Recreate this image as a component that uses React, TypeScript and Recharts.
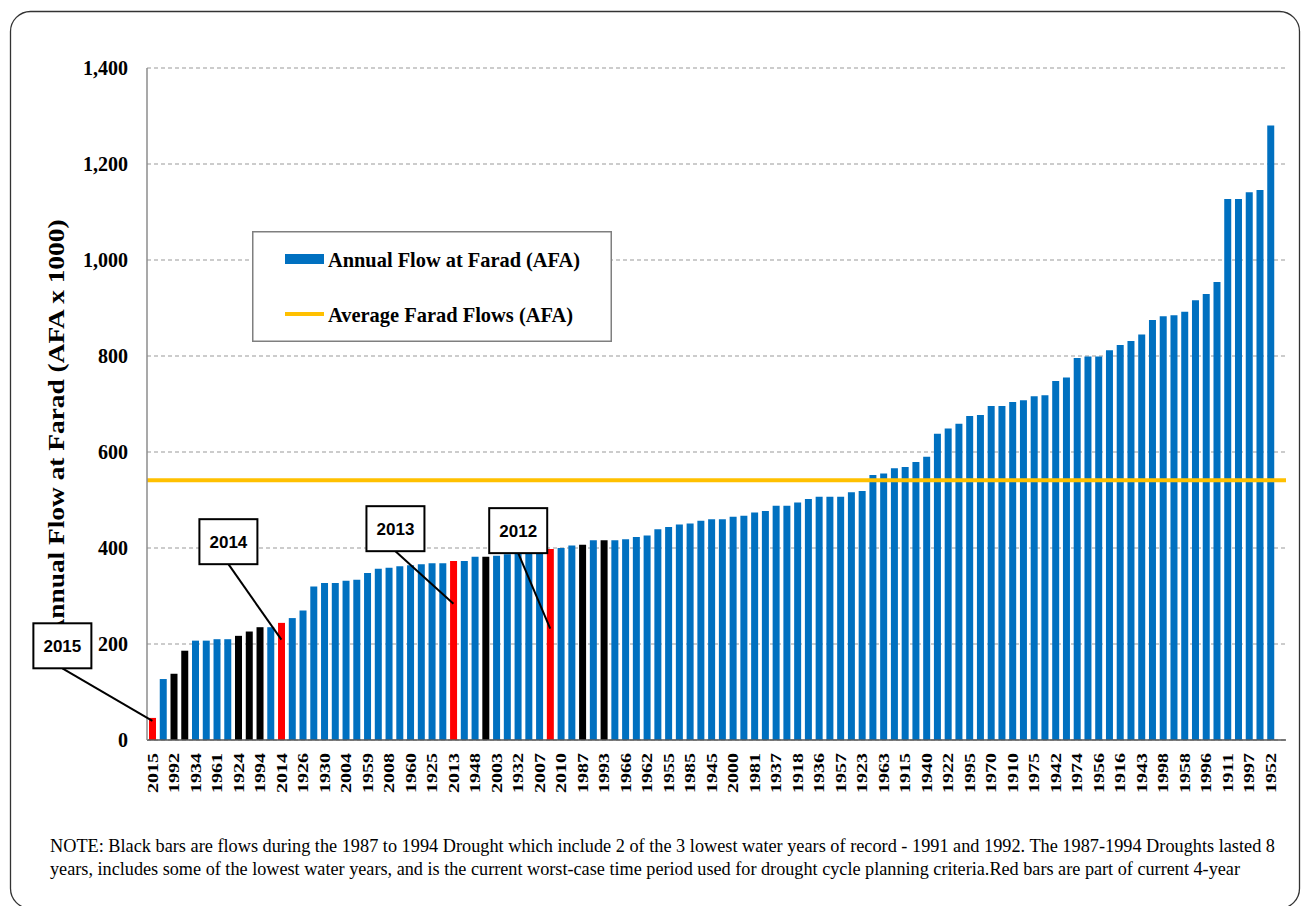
import React from "react";
import {
  Bar,
  CartesianGrid,
  Cell,
  ComposedChart,
  Legend,
  ReferenceDot,
  ReferenceLine,
  XAxis,
  YAxis,
} from "recharts";

// annual flows at Farad, sorted low to high (AFA x 1000)
const FLOWS = [
  46, 127, 138, 186, 207, 207, 210, 210, 217, 226, 235, 235, 244, 254, 270, 320, 327, 327, 332, 334,
  348, 357, 359, 362, 364, 366, 368, 368, 373, 373, 382, 382, 384, 387, 391, 393, 395, 398, 400, 405,
  407, 416, 416, 416, 418, 423, 426, 439, 444, 449, 451, 457, 460, 460, 465, 467, 474, 477, 488, 488,
  495, 502, 507, 507, 507, 516, 519, 552, 555, 566, 569, 579, 590, 638, 649, 659, 675, 677, 696, 696,
  704, 708, 716, 718, 748, 755, 796, 799, 799, 812, 823, 831, 845, 875, 883, 885, 892, 916, 929, 954,
  1127, 1127, 1141, 1146, 1280,
];

// only every other bar carries a year label
const TICK_YEARS = [
  "2015", "1992", "1934", "1961", "1924", "1994", "2014", "1926", "1930", "2004", "1959", "2008", "1960",
  "1925", "2013", "1948", "2003", "1932", "2007", "2010", "1987", "1993", "1966", "1962", "1955", "1985",
  "1945", "2000", "1981", "1937", "1918", "1936", "1957", "1923", "1963", "1915", "1940", "1922", "1995",
  "1970", "1910", "1975", "1942", "1974", "1956", "1916", "1943", "1998", "1958", "1996", "1911", "1997",
  "1952",
];

const DROUGHT_BARS = [2, 3, 8, 9, 10, 31, 40, 42];
const CURRENT_BARS = [0, 12, 28, 37];
const AVERAGE_FLOW = 541;
const Y_TICKS = [0, 200, 400, 600, 800, 1000, 1200, 1400];

const CALLOUT_YEARS = ["2015", "2014", "2013", "2012"];
const CALLOUT_BARS = [0, 12, 28, 37];
const CALLOUT_POINTS = [40, 209, 284, 232];

const SERIES_NAMES = ["Annual Flow at Farad (AFA)", "Average Farad Flows (AFA)"];

const NOTE_LINES = [
  "NOTE: Black bars are flows during the 1987 to 1994 Drought which include 2 of the 3 lowest  water years of record - 1991 and 1992. The 1987-1994 Droughts lasted 8",
  "years, includes some of the lowest water years, and is the current worst-case time period used for drought cycle planning  criteria.Red bars are part of current 4-year",
];

const BLUE = "#0070C0";
const BLACK = "#000000";
const RED = "#FF0000";
const GOLD = "#FFC000";
const SERIF = '"Liberation Serif", "Times New Roman", serif';
const SANS = '"Liberation Sans", Arial, sans-serif';

// box centre relative to where the leader line meets the bar
const CALLOUT_OFFSET = [
  [-90, -75],
  [-53, -98],
  [-58, -75],
  [-32, -98],
];
const BOX_W = 58;
const BOX_H = 45;

const data = FLOWS.map((flow, slot) => ({ slot, flow }));

function barColor(i: number) {
  if (CURRENT_BARS.includes(i)) return RED;
  if (DROUGHT_BARS.includes(i)) return BLACK;
  return BLUE;
}

function YearTick(props: any) {
  const { x, y, payload } = props;
  const i = payload.value;
  if (i % 2 !== 0) return <g />;
  return (
    <text
      x={x}
      y={y}
      transform={`rotate(-90 ${x} ${y})`}
      textAnchor="end"
      dy="0.35em"
      fontFamily={SERIF}
      fontWeight="bold"
      fontSize={15}
      fill="#000"
      textLength={40}
      lengthAdjust="spacingAndGlyphs"
    >
      {TICK_YEARS[i / 2]}
    </text>
  );
}

function calloutShape(k: number) {
  return (props: any) => {
    const { cx, cy } = props;
    const bx = cx + CALLOUT_OFFSET[k][0];
    const by = cy + CALLOUT_OFFSET[k][1];
    return (
      <g>
        <line x1={bx} y1={by + BOX_H / 2} x2={cx} y2={cy} stroke="#000" strokeWidth={2} />
        <rect x={bx - BOX_W / 2} y={by - BOX_H / 2} width={BOX_W} height={BOX_H} fill="#fff" stroke="#000" strokeWidth={2} />
        <text x={bx} y={by + 6} textAnchor="middle" fontFamily={SANS} fontWeight="bold" fontSize={17} fill="#000">
          {CALLOUT_YEARS[k]}
        </text>
      </g>
    );
  };
}

function FlowLegend() {
  return (
    <svg width={360} height={111} style={{ display: "block" }}>
      <rect x={0.75} y={0.75} width={358.5} height={109.5} fill="#fff" stroke="#7F7F7F" strokeWidth={1.5} />
      <rect x={33} y={23} width={39} height={10} fill={BLUE} />
      <text x={76} y={36} fontFamily={SERIF} fontWeight="bold" fontSize={21} fill="#000" textLength={252} lengthAdjust="spacingAndGlyphs">
        {SERIES_NAMES[0]}
      </text>
      <line x1={33} y1={83} x2={72} y2={83} stroke={GOLD} strokeWidth={4} />
      <text x={76} y={91} fontFamily={SERIF} fontWeight="bold" fontSize={21} fill="#000" textLength={245} lengthAdjust="spacingAndGlyphs">
        {SERIES_NAMES[1]}
      </text>
    </svg>
  );
}

export default function App() {
  return (
    <div style={{ position: "absolute", left: 0, top: 0, width: 1301, height: 906, background: "#fff" }}>
      <svg width={1301} height={906} style={{ position: "absolute", left: 0, top: 0 }}>
        <rect x={10.5} y={11.5} width={1289} height={897} rx={20} fill="none" stroke="#333" strokeWidth={1.3} />
        <text
          transform="translate(64 429) rotate(-90)"
          textAnchor="middle"
          fontFamily={SERIF}
          fontWeight="bold"
          fontSize={23}
          fill="#000"
          textLength={419}
          lengthAdjust="spacingAndGlyphs"
        >
          Annual Flow at Farad (AFA x 1000)
        </text>
        <text x={50} y={852} fontFamily={SERIF} fontSize={18} fill="#000" textLength={1225} lengthAdjust="spacingAndGlyphs">
          {NOTE_LINES[0]}
        </text>
        <text x={50} y={875} fontFamily={SERIF} fontSize={18} fill="#000" textLength={1190} lengthAdjust="spacingAndGlyphs">
          {NOTE_LINES[1]}
        </text>
      </svg>
      <div style={{ position: "absolute", left: 0, top: 0 }}>
        <ComposedChart width={1301} height={906} data={data} margin={{ top: 68, right: 15, bottom: 106, left: 87 }}>
          <CartesianGrid vertical={false} stroke="#999999" strokeDasharray="4 3" />
          <XAxis
            dataKey="slot"
            type="category"
            interval={0}
            height={60}
            padding={{ left: 0, right: 10 }}
            tick={<YearTick />}
            tickLine={false}
            tickSize={0}
            tickMargin={13}
            axisLine={{ stroke: "#595959", strokeWidth: 1.5 }}
          />
          <XAxis
            xAxisId="top"
            dataKey="slot"
            orientation="top"
            height={0}
            tick={false}
            tickLine={false}
            axisLine={{ stroke: "#8C8C8C", strokeWidth: 1.5 }}
          />
          <YAxis
            domain={[0, 1400]}
            ticks={Y_TICKS}
            width={60}
            tickLine={false}
            tickSize={0}
            tickMargin={19}
            tickFormatter={(v: number) => v.toLocaleString("en-US")}
            tick={{ fontFamily: SERIF, fontWeight: "bold", fontSize: 20, fill: "#000" }}
            axisLine={{ stroke: "#8C8C8C", strokeWidth: 1.5 }}
          />
          <YAxis
            yAxisId="right"
            orientation="right"
            domain={[0, 1400]}
            width={0}
            tick={false}
            tickLine={false}
            axisLine={{ stroke: "#8C8C8C", strokeWidth: 1.5 }}
          />
          <Bar dataKey="flow" name={SERIES_NAMES[0]} barSize={7} isAnimationActive={false}>
            {data.map((d) => (
              <Cell key={d.slot} fill={barColor(d.slot)} />
            ))}
          </Bar>
          <ReferenceLine y={AVERAGE_FLOW} stroke={GOLD} strokeWidth={4} />
          {CALLOUT_BARS.map((slot, k) => (
            <ReferenceDot key={k} x={slot} y={CALLOUT_POINTS[k]} r={0} shape={calloutShape(k)} />
          ))}
          <Legend
            layout="vertical"
            align="center"
            verticalAlign="middle"
            content={<FlowLegend />}
            wrapperStyle={{ position: "absolute", left: 252, top: 231, width: 360, height: 111 }}
          />
        </ComposedChart>
      </div>
    </div>
  );
}
